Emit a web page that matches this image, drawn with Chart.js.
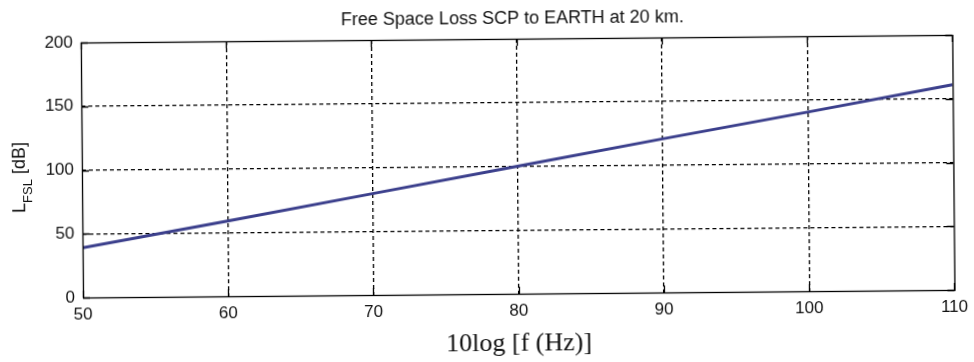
<!DOCTYPE html>
<html>
<head>
<meta charset="utf-8">
<script src="https://cdn.jsdelivr.net/npm/chart.js@4/dist/chart.umd.min.js"></script>
<style>
  html, body { margin: 0; padding: 0; background: #fff; }
  #fsl { display: block; transform: rotate(-0.5deg); }
</style>
</head>
<body>
<canvas id="fsl" width="974" height="362"></canvas>
<script>
// 10log f [Hz] and the free space loss read at each of them
const freqDb = [50, 60, 70, 80, 90, 100, 110];
const lossDb = [39, 59, 79.5, 100, 120.5, 140.5, 161];

const titleText = "Free Space Loss SCP to EARTH at 20 km.";
const xTitle = "10log [f (Hz)]";

const points = freqDb.map((f, i) => ({ x: f, y: lossDb[i] }));

const sans = "'Liberation Sans', Arial, sans-serif";

// dashed grid only inside the box; the edges are drawn solid by frameBox
const innerGrid = (lo, hi) => (ctx) =>
  ctx.tick && (ctx.tick.value === lo || ctx.tick.value === hi) ? "rgba(0,0,0,0)" : "#000";

// closed box round the plot, with short ticks pointing inwards
const frameBox = {
  id: "frameBox",
  afterDraw(chart) {
    const { ctx, chartArea: a, scales } = chart;
    ctx.save();
    ctx.strokeStyle = "#000";
    ctx.lineWidth = 1.3;
    ctx.setLineDash([]);
    ctx.strokeRect(a.left + 0.5, a.top + 0.5, a.right - a.left, a.bottom - a.top);
    const len = 7;
    ctx.beginPath();
    scales.x.ticks.forEach((t) => {
      const px = Math.round(scales.x.getPixelForValue(t.value)) + 0.5;
      ctx.moveTo(px, a.bottom);
      ctx.lineTo(px, a.bottom - len);
      ctx.moveTo(px, a.top);
      ctx.lineTo(px, a.top + len);
    });
    scales.y.ticks.forEach((t) => {
      const py = Math.round(scales.y.getPixelForValue(t.value)) + 0.5;
      ctx.moveTo(a.left, py);
      ctx.lineTo(a.left + len, py);
      ctx.moveTo(a.right, py);
      ctx.lineTo(a.right - len, py);
    });
    ctx.stroke();
    ctx.restore();
  },
};

// title over the plot box, and the y axis title with the FSL subscript
const labels = {
  id: "labels",
  afterDraw(chart) {
    const ctx = chart.ctx;
    const a = chart.chartArea;
    ctx.save();
    ctx.fillStyle = "#111";
    ctx.font = "18px " + sans;
    ctx.textAlign = "center";
    ctx.textBaseline = "middle";
    ctx.fillText(titleText, (a.left + a.right) / 2 - 4, 19);
    ctx.restore();

    const cy = (a.top + a.bottom) / 2 + 7;
    ctx.save();
    ctx.translate(21, cy);
    ctx.rotate(-Math.PI / 2);
    ctx.fillStyle = "#111";
    ctx.textBaseline = "alphabetic";
    const big = "18px " + sans;
    const small = "13px " + sans;
    ctx.font = big;
    const wL = ctx.measureText("L").width;
    const wU = ctx.measureText(" [dB]").width;
    ctx.font = small;
    const wS = ctx.measureText("FSL").width;
    let u = -(wL + wS + wU) / 2;
    ctx.font = big;
    ctx.fillText("L", u, 4);
    u += wL;
    ctx.font = small;
    ctx.fillText("FSL", u, 11);
    u += wS;
    ctx.font = big;
    ctx.fillText(" [dB]", u, 4);
    ctx.restore();
  },
};

const whiteBg = {
  id: "whiteBg",
  beforeDraw(chart) {
    const ctx = chart.ctx;
    ctx.save();
    ctx.fillStyle = "#fff";
    ctx.fillRect(0, 0, chart.width, chart.height);
    ctx.restore();
  },
};

const tickFont = { family: sans, size: 17 };

new Chart(document.getElementById("fsl"), {
  type: "line",
  data: {
    datasets: [
      {
        data: points,
        borderColor: "#3b3f8c",
        borderWidth: 3,
        pointRadius: 0,
        tension: 0,
        fill: false,
      },
    ],
  },
  options: {
    responsive: false,
    animation: false,
    layout: { padding: { left: 0, right: 17, top: 39, bottom: 2 } },
    plugins: {
      legend: { display: false },
      tooltip: { enabled: false },
      title: { display: false },
    },
    scales: {
      x: {
        type: "linear",
        min: 50,
        max: 110,
        ticks: { stepSize: 10, color: "#111", font: tickFont, padding: 7 },
        grid: { color: innerGrid(50, 110), drawTicks: false, lineWidth: 1.3 },
        border: { display: false, dash: [4, 3] },
        title: {
          display: true,
          text: xTitle,
          color: "#111",
          font: { family: "'Liberation Serif', 'Times New Roman', serif", size: 26 },
          padding: { top: 2, bottom: 0 },
        },
        afterFit(scale) {
          scale.height = 66;
        },
      },
      y: {
        min: 0,
        max: 200,
        ticks: { stepSize: 50, color: "#111", font: tickFont, padding: 8 },
        grid: { color: innerGrid(0, 200), drawTicks: false, lineWidth: 1.3 },
        border: { display: false, dash: [4, 3] },
        afterFit(scale) {
          scale.width = 82;
        },
      },
    },
  },
  plugins: [whiteBg, frameBox, labels],
});
</script>
</body>
</html>
